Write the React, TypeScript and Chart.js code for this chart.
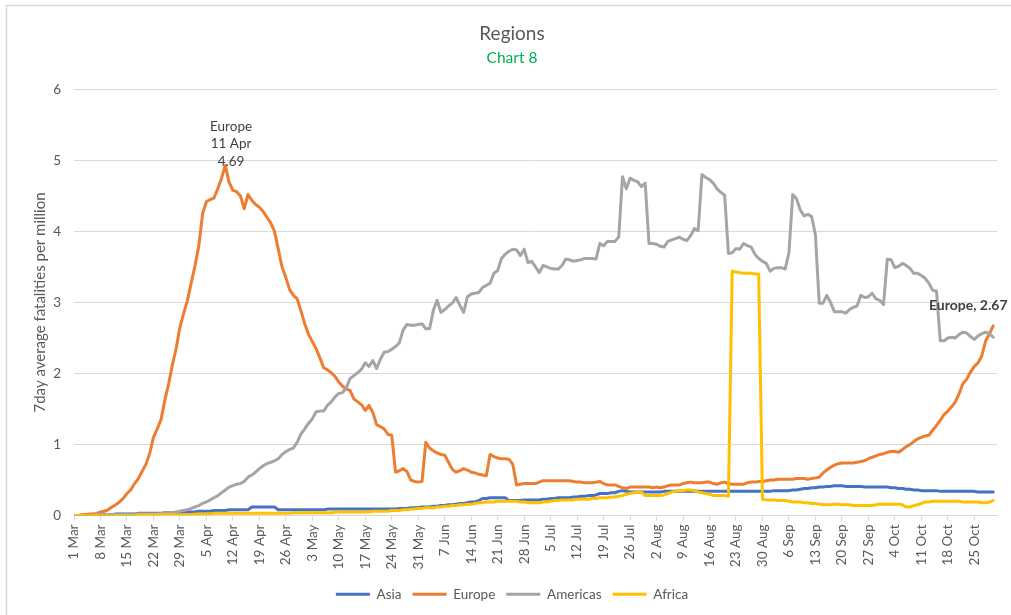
import React, { useEffect, useRef } from 'react';
import { Chart, registerables } from 'chart.js';

Chart.register(...registerables);

const FONT = 'Lato, "Noto Sans", sans-serif';

// weekly tick labels (one every 7 days from 1 Mar)
const tickLabels = [
  '1 Mar', '8 Mar', '15 Mar', '22 Mar', '29 Mar', '5 Apr', '12 Apr', '19 Apr', '26 Apr',
  '3 May', '10 May', '17 May', '24 May', '31 May', '7 Jun', '14 Jun', '21 Jun', '28 Jun',
  '5 Jul', '12 Jul', '19 Jul', '26 Jul', '2 Aug', '9 Aug', '16 Aug', '23 Aug', '30 Aug',
  '6 Sep', '13 Sep', '20 Sep', '27 Sep', '4 Oct', '11 Oct', '18 Oct', '25 Oct',
];

const seriesNames = ['Asia', 'Europe', 'Americas', 'Africa'];
const seriesColors = ['#4472C4', '#ED7D31', '#A5A5A5', '#FFC000'];

// daily values, 1 Mar .. 30 Oct
const asia = [
  0.00, 0.00, 0.00, 0.01, 0.01, 0.01, 0.01,
  0.01, 0.01, 0.01, 0.01, 0.02, 0.02, 0.02,
  0.02, 0.02, 0.02, 0.03, 0.03, 0.03, 0.03,
  0.03, 0.03, 0.03, 0.04, 0.04, 0.04, 0.04,
  0.04, 0.05, 0.05, 0.05, 0.05, 0.06, 0.06,
  0.06, 0.06, 0.07, 0.07, 0.07, 0.07, 0.08,
  0.08, 0.08, 0.08, 0.08, 0.08, 0.12, 0.12,
  0.12, 0.12, 0.12, 0.12, 0.12, 0.08, 0.08,
  0.08, 0.08, 0.08, 0.08, 0.08, 0.08, 0.08,
  0.08, 0.08, 0.08, 0.08, 0.09, 0.09, 0.09,
  0.09, 0.09, 0.09, 0.09, 0.09, 0.09, 0.09,
  0.09, 0.09, 0.09, 0.09, 0.09, 0.09, 0.09,
  0.09, 0.09, 0.10, 0.10, 0.10, 0.11, 0.11,
  0.11, 0.12, 0.12, 0.12, 0.13, 0.13, 0.14,
  0.14, 0.15, 0.15, 0.16, 0.17, 0.17, 0.18,
  0.19, 0.19, 0.21, 0.24, 0.24, 0.25, 0.25,
  0.25, 0.25, 0.25, 0.21, 0.21, 0.21, 0.21,
  0.22, 0.22, 0.22, 0.22, 0.22, 0.23, 0.23,
  0.24, 0.24, 0.25, 0.25, 0.25, 0.25, 0.26,
  0.26, 0.27, 0.27, 0.28, 0.28, 0.29, 0.31,
  0.31, 0.31, 0.32, 0.32, 0.34, 0.35, 0.34,
  0.33, 0.33, 0.33, 0.33, 0.33, 0.33, 0.33,
  0.33, 0.33, 0.34, 0.34, 0.34, 0.34, 0.34,
  0.34, 0.34, 0.34, 0.34, 0.34, 0.34, 0.34,
  0.34, 0.34, 0.34, 0.34, 0.34, 0.34, 0.34,
  0.34, 0.34, 0.34, 0.34, 0.34, 0.34, 0.34,
  0.34, 0.34, 0.34, 0.35, 0.35, 0.35, 0.35,
  0.35, 0.36, 0.36, 0.37, 0.38, 0.38, 0.39,
  0.39, 0.40, 0.40, 0.41, 0.41, 0.42, 0.42,
  0.42, 0.41, 0.41, 0.41, 0.41, 0.41, 0.40,
  0.40, 0.40, 0.40, 0.40, 0.40, 0.40, 0.39,
  0.39, 0.38, 0.38, 0.37, 0.37, 0.36, 0.36,
  0.35, 0.35, 0.35, 0.35, 0.35, 0.34, 0.34,
  0.34, 0.34, 0.34, 0.34, 0.34, 0.34, 0.34,
  0.34, 0.33, 0.33, 0.33, 0.33, 0.33,
];

const europe = [
  0.00, 0.00, 0.01, 0.01, 0.02, 0.02, 0.03,
  0.05, 0.06, 0.08, 0.12, 0.15, 0.19, 0.24,
  0.31, 0.36, 0.45, 0.52, 0.62, 0.72, 0.87,
  1.10, 1.22, 1.35, 1.62, 1.85, 2.12, 2.35,
  2.65, 2.85, 3.03, 3.28, 3.52, 3.80, 4.25,
  4.42, 4.45, 4.47, 4.60, 4.75, 4.93, 4.69,
  4.58, 4.56, 4.50, 4.32, 4.52, 4.44, 4.38,
  4.34, 4.28, 4.20, 4.12, 4.00, 3.75, 3.50,
  3.35, 3.18, 3.10, 3.05, 2.88, 2.70, 2.55,
  2.45, 2.35, 2.22, 2.08, 2.05, 2.01, 1.96,
  1.88, 1.82, 1.78, 1.76, 1.64, 1.60, 1.56,
  1.48, 1.55, 1.45, 1.28, 1.25, 1.22, 1.14,
  1.13, 0.61, 0.63, 0.66, 0.62, 0.50, 0.48,
  0.47, 0.48, 1.03, 0.95, 0.91, 0.88, 0.86,
  0.85, 0.75, 0.65, 0.61, 0.63, 0.66, 0.64,
  0.61, 0.60, 0.58, 0.57, 0.56, 0.86, 0.83,
  0.81, 0.80, 0.80, 0.79, 0.72, 0.43, 0.44,
  0.45, 0.45, 0.45, 0.45, 0.47, 0.49, 0.49,
  0.49, 0.49, 0.49, 0.49, 0.49, 0.49, 0.48,
  0.47, 0.47, 0.46, 0.46, 0.46, 0.47, 0.48,
  0.45, 0.43, 0.43, 0.43, 0.41, 0.39, 0.38,
  0.40, 0.40, 0.40, 0.40, 0.40, 0.40, 0.39,
  0.40, 0.39, 0.40, 0.42, 0.43, 0.43, 0.43,
  0.45, 0.46, 0.47, 0.46, 0.46, 0.46, 0.47,
  0.47, 0.45, 0.44, 0.46, 0.47, 0.45, 0.44,
  0.44, 0.44, 0.44, 0.46, 0.47, 0.47, 0.48,
  0.48, 0.49, 0.50, 0.50, 0.51, 0.51, 0.51,
  0.51, 0.51, 0.52, 0.52, 0.52, 0.51, 0.52,
  0.53, 0.54, 0.60, 0.64, 0.68, 0.71, 0.73,
  0.74, 0.74, 0.74, 0.74, 0.75, 0.76, 0.77,
  0.80, 0.82, 0.84, 0.86, 0.87, 0.89, 0.90,
  0.90, 0.89, 0.93, 0.97, 1.00, 1.04, 1.08,
  1.10, 1.12, 1.13, 1.20, 1.27, 1.34, 1.42,
  1.47, 1.53, 1.60, 1.72, 1.86, 1.92, 2.02,
  2.10, 2.15, 2.25, 2.46, 2.56, 2.67,
];

const americas = [
  0.00, 0.00, 0.00, 0.00, 0.00, 0.00, 0.01,
  0.01, 0.01, 0.01, 0.01, 0.01, 0.01, 0.01,
  0.01, 0.01, 0.01, 0.02, 0.02, 0.02, 0.02,
  0.02, 0.02, 0.03, 0.03, 0.04, 0.04, 0.05,
  0.06, 0.07, 0.08, 0.10, 0.12, 0.14, 0.17,
  0.19, 0.22, 0.25, 0.28, 0.32, 0.36, 0.40,
  0.42, 0.44, 0.45, 0.48, 0.54, 0.57, 0.61,
  0.66, 0.70, 0.73, 0.75, 0.77, 0.80, 0.86,
  0.90, 0.93, 0.95, 1.03, 1.15, 1.22, 1.30,
  1.36, 1.46, 1.47, 1.47, 1.55, 1.60, 1.67,
  1.72, 1.73, 1.80, 1.93, 1.97, 2.01, 2.06,
  2.15, 2.10, 2.18, 2.07, 2.20, 2.30, 2.31,
  2.34, 2.38, 2.43, 2.61, 2.69, 2.68, 2.68,
  2.69, 2.70, 2.63, 2.63, 2.89, 3.03, 2.86,
  2.90, 2.95, 2.99, 3.07, 2.96, 2.86, 3.08,
  3.12, 3.13, 3.14, 3.21, 3.24, 3.27, 3.41,
  3.45, 3.62, 3.68, 3.72, 3.75, 3.74, 3.66,
  3.75, 3.56, 3.58, 3.50, 3.42, 3.52, 3.50,
  3.48, 3.47, 3.47, 3.52, 3.61, 3.60, 3.58,
  3.59, 3.60, 3.62, 3.62, 3.62, 3.61, 3.83,
  3.80, 3.86, 3.86, 3.86, 3.92, 4.77, 4.60,
  4.75, 4.72, 4.70, 4.63, 4.68, 3.83, 3.83,
  3.82, 3.79, 3.78, 3.86, 3.88, 3.90, 3.92,
  3.89, 3.87, 3.94, 4.04, 4.01, 4.80, 4.76,
  4.73, 4.68, 4.60, 4.55, 4.51, 3.69, 3.70,
  3.76, 3.75, 3.83, 3.80, 3.78, 3.68, 3.62,
  3.58, 3.55, 3.44, 3.48, 3.49, 3.49, 3.47,
  3.70, 4.52, 4.46, 4.30, 4.22, 4.24, 4.21,
  3.95, 2.99, 2.99, 3.10, 3.00, 2.87, 2.87,
  2.87, 2.85, 2.90, 2.93, 2.95, 3.10, 3.07,
  3.08, 3.13, 3.05, 3.03, 2.97, 3.61, 3.60,
  3.49, 3.51, 3.55, 3.52, 3.48, 3.41, 3.41,
  3.38, 3.34, 3.27, 3.17, 3.16, 2.46, 2.46,
  2.50, 2.51, 2.50, 2.55, 2.58, 2.57, 2.52,
  2.48, 2.53, 2.56, 2.58, 2.56, 2.51,
];

const africa = [
  0.00, 0.00, 0.00, 0.00, 0.00, 0.00, 0.00,
  0.00, 0.00, 0.00, 0.00, 0.00, 0.00, 0.00,
  0.00, 0.00, 0.00, 0.01, 0.01, 0.01, 0.01,
  0.01, 0.01, 0.01, 0.01, 0.01, 0.01, 0.01,
  0.01, 0.01, 0.01, 0.01, 0.02, 0.02, 0.02,
  0.02, 0.02, 0.03, 0.03, 0.03, 0.03, 0.03,
  0.03, 0.03, 0.03, 0.03, 0.03, 0.03, 0.03,
  0.03, 0.03, 0.03, 0.03, 0.03, 0.03, 0.03,
  0.03, 0.03, 0.04, 0.04, 0.04, 0.04, 0.04,
  0.04, 0.04, 0.04, 0.04, 0.04, 0.04, 0.05,
  0.05, 0.05, 0.05, 0.05, 0.05, 0.05, 0.05,
  0.05, 0.05, 0.06, 0.06, 0.06, 0.06, 0.06,
  0.07, 0.07, 0.07, 0.08, 0.08, 0.09, 0.09,
  0.10, 0.10, 0.11, 0.11, 0.11, 0.12, 0.12,
  0.13, 0.13, 0.14, 0.14, 0.15, 0.15, 0.16,
  0.16, 0.17, 0.18, 0.18, 0.19, 0.19, 0.19,
  0.20, 0.20, 0.20, 0.20, 0.20, 0.20, 0.19,
  0.19, 0.18, 0.18, 0.18, 0.18, 0.19, 0.19,
  0.20, 0.21, 0.21, 0.22, 0.22, 0.22, 0.22,
  0.23, 0.23, 0.23, 0.23, 0.24, 0.24, 0.25,
  0.25, 0.25, 0.26, 0.26, 0.27, 0.28, 0.30,
  0.31, 0.32, 0.33, 0.33, 0.28, 0.28, 0.28,
  0.28, 0.28, 0.29, 0.31, 0.33, 0.34, 0.35,
  0.35, 0.36, 0.36, 0.35, 0.33, 0.32, 0.31,
  0.30, 0.28, 0.28, 0.28, 0.28, 0.27, 3.44,
  3.43, 3.42, 3.41, 3.41, 3.41, 3.40, 3.40,
  0.23, 0.22, 0.22, 0.22, 0.21, 0.21, 0.21,
  0.20, 0.19, 0.19, 0.19, 0.18, 0.18, 0.17,
  0.17, 0.16, 0.15, 0.15, 0.15, 0.16, 0.16,
  0.15, 0.15, 0.15, 0.14, 0.14, 0.14, 0.14,
  0.14, 0.14, 0.15, 0.16, 0.16, 0.16, 0.16,
  0.16, 0.16, 0.15, 0.12, 0.12, 0.14, 0.15,
  0.17, 0.19, 0.19, 0.20, 0.20, 0.20, 0.20,
  0.20, 0.20, 0.20, 0.20, 0.19, 0.19, 0.19,
  0.19, 0.19, 0.18, 0.18, 0.19, 0.21,
];

const seriesValues = [asia, europe, americas, africa];

// data labels
const peakIndex = 41; // 11 Apr
const peakLabel = ['Europe', '11 Apr', '4.69'];
const lastLabel = 'Europe, 2.67';

export default function App() {
  const ref = useRef<HTMLCanvasElement | null>(null);

  useEffect(() => {
    if (!ref.current) return;

    const annot = {
      id: 'annot',
      beforeDraw(chart: any) {
        const ctx = chart.ctx;
        ctx.save();
        ctx.strokeStyle = '#d9d9d9';
        ctx.lineWidth = 1.5;
        ctx.beginPath();
        ctx.moveTo(6.5, chart.height);
        ctx.lineTo(6.5, 5.5);
        ctx.lineTo(chart.width, 5.5);
        ctx.stroke();
        ctx.restore();
      },
      afterDatasetsDraw(chart: any) {
        const ctx = chart.ctx;
        const xs = chart.scales.x;
        const ys = chart.scales.y;
        ctx.save();
        ctx.fillStyle = '#404040';
        ctx.textAlign = 'center';
        ctx.textBaseline = 'middle';
        ctx.font = `13.5px ${FONT}`;
        const px = xs.getPixelForValue(peakIndex);
        const py = ys.getPixelForValue(europe[peakIndex]);
        peakLabel.forEach((t, i) => ctx.fillText(t, px + 2, py - 56 + i * 17.5));
        const li = europe.length - 1;
        const lx = xs.getPixelForValue(li);
        const ly = ys.getPixelForValue(europe[li]);
        ctx.font = `bold 14px ${FONT}`;
        ctx.fillText(lastLabel, lx - 25, ly - 20);
        ctx.restore();
      },
    };

    const datasets = seriesNames.map((name, k) => ({
      label: name,
      data: seriesValues[k].map((v, i) => ({ x: i, y: v })),
      borderColor: seriesColors[k],
      backgroundColor: seriesColors[k],
      borderWidth: 3,
      pointRadius: 0,
      pointHoverRadius: 0,
      pointStyle: 'line',
      borderCapStyle: 'round',
      borderJoinStyle: 'round',
      tension: 0,
      order: seriesNames.length - k,
    }));

    const chart = new Chart(ref.current, {
      type: 'line',
      data: { datasets } as any,
      options: {
        responsive: true,
        maintainAspectRatio: false,
        animation: false,
        layout: { padding: { top: 20, left: 27, right: 14, bottom: 4 } },
        plugins: {
          title: {
            display: true,
            text: 'Regions',
            color: '#595959',
            font: { family: FONT, size: 19, weight: 'normal' },
            padding: { top: 2, bottom: 3 },
          },
          subtitle: {
            display: true,
            text: 'Chart 8',
            color: '#00B050',
            font: { family: FONT, size: 15.5, weight: 'normal' },
            padding: { top: 1, bottom: 22 },
          },
          legend: {
            position: 'bottom',
            labels: {
              usePointStyle: true,
              pointStyleWidth: 34,
              boxHeight: 4,
              padding: 11,
              color: '#595959',
              font: { family: FONT, size: 13.5 },
              sort: (a: any, b: any) => a.datasetIndex - b.datasetIndex,
            },
          },
          tooltip: { enabled: false },
        },
        scales: {
          x: {
            type: 'linear',
            min: 0,
            max: 244,
            afterBuildTicks: (axis: any) => {
              axis.ticks = tickLabels.map((_, i) => ({ value: i * 7 }));
            },
            afterFit: (s: any) => {
              s.height = 61;
            },
            ticks: {
              autoSkip: false,
              maxRotation: 90,
              minRotation: 90,
              padding: 4,
              color: '#595959',
              font: { family: FONT, size: 13.5 },
              callback: (_v: any, i: number) => tickLabels[i],
            },
            grid: { drawOnChartArea: false, drawTicks: true, tickLength: 5, color: '#d9d9d9' },
            border: { color: '#d9d9d9' },
          },
          y: {
            min: 0,
            max: 6,
            afterFit: (s: any) => {
              s.width = 47;
            },
            ticks: {
              stepSize: 1,
              padding: 13,
              color: '#595959',
              font: { family: FONT, size: 13.5 },
            },
            grid: { color: '#d9d9d9', drawTicks: false },
            border: { display: false },
            title: {
              display: true,
              text: '7day average fatalities per million',
              color: '#595959',
              font: { family: FONT, size: 15 },
              padding: { top: 4, bottom: 0 },
            },
          },
        },
      } as any,
      plugins: [annot],
    });

    return () => chart.destroy();
  }, []);

  return (
    <div style={{ position: 'absolute', left: 0, top: 0, width: 1011, height: 615 }}>
      <canvas ref={ref} />
    </div>
  );
}
